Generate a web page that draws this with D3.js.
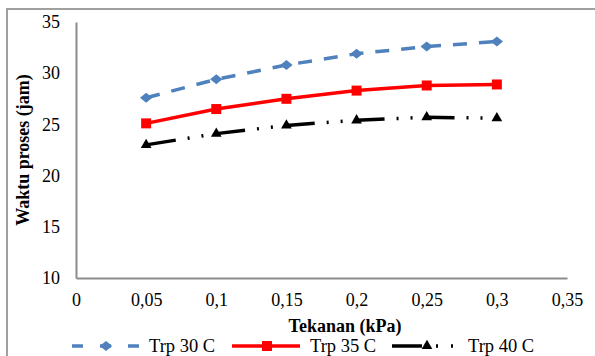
<!DOCTYPE html>
<html>
<head>
<meta charset="utf-8">
<script src="https://cdn.jsdelivr.net/npm/d3@7"></script>
<style>
  body { margin: 0; background: #fff; }
  svg { display: block; }
  text { font-family: 'Liberation Serif', 'Times New Roman', serif; }
</style>
</head>
<body>
<script>
// data
var tekanan = [0.05, 0.1, 0.15, 0.2, 0.25, 0.3];
var trp30 = [27.6, 29.4, 30.8, 31.9, 32.6, 33.1];
var trp35 = [25.1, 26.5, 27.5, 28.3, 28.8, 28.9];
var trp40 = [23.0, 24.1, 24.9, 25.4, 25.7, 25.6];
var seriesNames = ['Trp 30 C', 'Trp 35 C', 'Trp 40 C'];
var xTicks = [0, 0.05, 0.1, 0.15, 0.2, 0.25, 0.3, 0.35];
var yTicks = [10, 15, 20, 25, 30, 35];

var width = 595,
    height = 356,
    margin = {top: 22, right: 28, bottom: 78, left: 76},
    font = 'Liberation Serif';

// wide diamond like the excel marker
var diamond = {
    draw: function(ctx, size) {
        var w = Math.sqrt(size) * 0.62, h = Math.sqrt(size) * 0.5;
        ctx.moveTo(-w, 0);
        ctx.lineTo(0, -h);
        ctx.lineTo(w, 0);
        ctx.lineTo(0, h);
        ctx.closePath();
    }
};

var series = [
    {name: seriesNames[0], values: trp30, color: '#4F81BD', dash: '14,12', marker: diamond, msize: 100,
        legendDash: '11,17', legendMark: 34, legendText: 77},
    {name: seriesNames[1], values: trp35, color: '#FF0000', dash: null, marker: d3.symbolSquare, msize: 100,
        legendDash: null, legendMark: 35, legendText: 78},
    {name: seriesNames[2], values: trp40, color: '#000000', dash: '30,12,2,12,2,12', marker: d3.symbolTriangle, msize: 50,
        legendDash: '30,14,2,13,2,100', legendMark: 35, legendText: 76}
];

var svg = d3.select('body')
    .append('svg')
    .attr('width', width)
    .attr('height', height);

// chart frame
svg.append('rect')
    .attr('x', 7)
    .attr('y', 9)
    .attr('width', 600)
    .attr('height', 400)
    .style('fill', 'none')
    .style('stroke', '#a0a0a0')
    .style('stroke-width', 2);

var xScale = d3.scaleLinear()
    .domain([0, 0.35])
    .range([margin.left, width - margin.right]);

var yScale = d3.scaleLinear()
    .domain([10, 35])
    .range([height - margin.bottom, margin.top]);

var fmt = function(d) { return String(d).replace('.', ','); };

// x axis
var xAxis = svg.append('g')
    .attr('transform', 'translate(0,' + yScale(10) + ')')
    .call(d3.axisBottom(xScale).tickValues(xTicks).tickFormat(fmt).tickSize(0).tickPadding(15));

// y axis
var yAxis = svg.append('g')
    .attr('transform', 'translate(' + xScale(0) + ',0)')
    .call(d3.axisLeft(yScale).tickValues(yTicks).tickSize(0).tickPadding(16));

[xAxis, yAxis].forEach(function(ax) {
    ax.attr('font-family', font).attr('font-size', 18);
    ax.select('.domain').style('stroke', '#8c8c8c').style('stroke-width', 2);
    ax.selectAll('text').style('fill', '#000');
});

// axis titles
svg.append('text')
    .attr('x', 345)
    .attr('y', 332)
    .attr('font-family', font)
    .attr('font-size', 18)
    .attr('font-weight', 'bold')
    .style('text-anchor', 'middle')
    .text('Tekanan (kPa)');

svg.append('text')
    .attr('transform', 'translate(29,' + yScale(22.5) + ') rotate(-90)')
    .attr('font-family', font)
    .attr('font-size', 18)
    .attr('font-weight', 'bold')
    .style('text-anchor', 'middle')
    .text('Waktu proses (jam)');

// lines
var linePath = d3.line()
    .x(function(d, i) { return xScale(tekanan[i]); })
    .y(function(d) { return yScale(d); });

series.forEach(function(s) {
    var g = svg.append('g');
    g.append('path')
        .attr('d', linePath(s.values))
        .style('fill', 'none')
        .style('stroke', s.color)
        .style('stroke-width', 3.5)
        .style('stroke-dasharray', s.dash);
    g.selectAll('path.mark')
        .data(s.values)
        .enter()
        .append('path')
        .attr('class', 'mark')
        .attr('d', d3.symbol().type(s.marker).size(s.msize))
        .attr('transform', function(d, i) {
            return 'translate(' + xScale(tekanan[i]) + ',' + yScale(d) + ')';
        })
        .style('fill', s.color);
});

// legend
var legendX = [72, 232, 392],
    legendY = 346;

series.forEach(function(s, i) {
    var g = svg.append('g').attr('transform', 'translate(' + legendX[i] + ',' + legendY + ')');
    g.append('line')
        .attr('x1', 0).attr('x2', i === 2 ? 62 : 68)
        .attr('y1', 0).attr('y2', 0)
        .style('stroke', s.color)
        .style('stroke-width', 3.5)
        .style('stroke-dasharray', s.legendDash);
    g.append('path')
        .attr('d', d3.symbol().type(s.marker).size(s.msize))
        .attr('transform', 'translate(' + s.legendMark + ',0)')
        .style('fill', s.color);
    g.append('text')
        .attr('x', s.legendText)
        .attr('y', 6)
        .attr('font-family', font)
        .attr('font-size', 18.5)
        .text(s.name);
});
</script>
</body>
</html>
